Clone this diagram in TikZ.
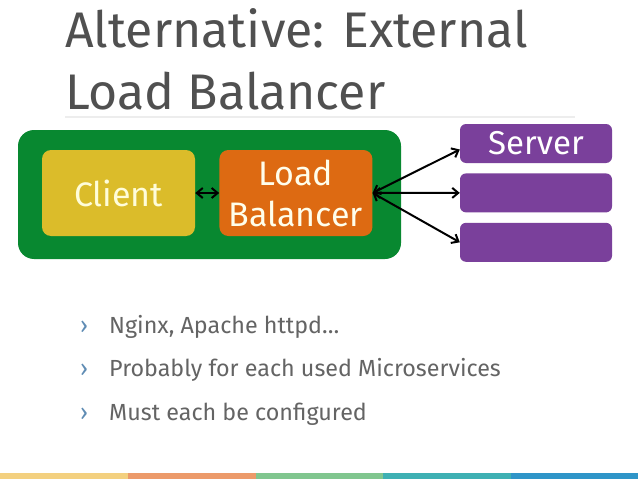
\documentclass[tikz,border=0pt]{standalone}
\usepackage{fontspec}
\setmainfont{Fira Sans}
\usepackage{xcolor}
\usetikzlibrary{arrows.meta,positioning}

\definecolor{titlegrey}{RGB}{80,80,80}
\definecolor{textgrey}{RGB}{100,100,100}
\definecolor{hostgreen}{RGB}{8,136,48}
\definecolor{clientyellow}{RGB}{219,188,42}
\definecolor{lborange}{RGB}{221,106,18}
\definecolor{srvpurple}{RGB}{122,64,155}
\definecolor{chevblue}{RGB}{95,140,180}
\definecolor{barA}{RGB}{243,208,127}
\definecolor{barB}{RGB}{236,154,106}
\definecolor{barC}{RGB}{128,198,143}
\definecolor{barD}{RGB}{62,176,179}
\definecolor{barE}{RGB}{47,149,200}

\begin{document}
\begin{tikzpicture}[
  x=1pt, y=-1pt,
  title/.style={anchor=base west, inner sep=0pt, text=titlegrey, font=\fontsize{50}{60}\selectfont},
  box/.style={rounded corners=9pt, minimum width=153pt, minimum height=86pt, inner sep=0pt, align=center, font=\fontsize{34}{41}\selectfont},
  server/.style={fill=srvpurple, rounded corners=6pt, minimum width=152pt, minimum height=39pt, inner sep=0pt, text=white, font=\fontsize{33}{40}\selectfont},
  item/.style={anchor=base west, inner sep=0pt, text=textgrey, font=\fontsize{23.3}{28}\selectfont},
  chev/.style={anchor=base west, inner sep=0pt, text=chevblue, font=\fontsize{23.3}{28}\selectfont},
  link/.style={{Straight Barb[length=6pt,width=10pt]}-{Straight Barb[length=6pt,width=10pt]}, line width=2pt}
]
\useasboundingbox[fill=white] (0,0) rectangle (638,479);

% title
\node[title] (titleA) at (65,47) {Alternative: External};
\node[title] (titleB) at (65,109) {Load Balancer};
\draw[black!7, line width=1.2pt] (65,117) -- (575,117);

% diagram
\node[fill=hostgreen, rounded corners=16pt, minimum width=383pt, minimum height=129pt] (host) at (209.5,194.5) {};
\node[box, fill=clientyellow, text=yellow!15] (client) at (118.5,193) {Client};
\node[box, fill=lborange, text=white!92!yellow, right=24pt of client] (lb) {Load\\Balancer};

\node[server] (srvA) at (536,143.5) {Server};
\node[server, below=10pt of srvA] (srvB) {};
\node[server, below=10pt of srvB] (srvC) {};

\draw[link] (client) -- (lb);
\draw[link] (lb.east) -- ([yshift=-6pt]srvA.west);
\draw[link] (lb.east) -- (srvB.west);
\draw[link] (lb.east) -- (srvC.west);

% bullets
\node[chev] (chevA) at (80,333) {›};
\node[item] (itemA) at (109,333) {Nginx, Apache httpd…};
\node[chev] (chevB) at (80,376) {›};
\node[item] (itemB) at (109,376) {Probably for each used Microservices};
\node[chev] (chevC) at (80,420) {›};
\node[item] (itemC) at (109,420) {Must each be configured};

% colour strip
\fill[barA] (0,473) rectangle (128,479);
\fill[barB] (128,473) rectangle (256,479);
\fill[barC] (256,473) rectangle (383,479);
\fill[barD] (383,473) rectangle (511,479);
\fill[barE] (511,473) rectangle (638,479);
\end{tikzpicture}
\end{document}
